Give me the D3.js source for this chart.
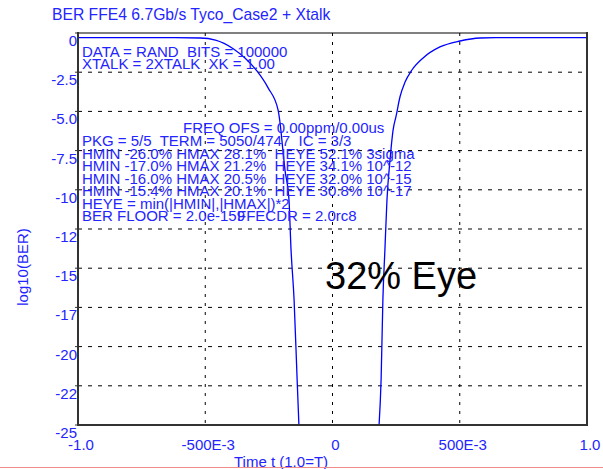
<!DOCTYPE html>
<html>
<head>
<meta charset="utf-8">
<script src="https://cdn.jsdelivr.net/npm/d3@7"></script>
<style>
body { margin: 0; background: #fff; }
text { font-family: Arial, "Liberation Sans", sans-serif; white-space: pre; }
</style>
</head>
<body>
<script>
// bathtub curve, left edge (time t, log10 BER)
var leftT = [-1.0, -0.62, -0.52, -0.46, -0.39, -0.344, -0.297, -0.253, -0.214, -0.206, -0.195, -0.187, -0.171, -0.163, -0.151, -0.139, -0.132];
var leftBer = [-0.3, -0.3, -0.32, -0.45, -1.0, -1.6, -2.42, -3.5, -4.9, -5.74, -7.46, -8.7, -10.65, -13.8, -17.0, -22.1, -25];
// right edge
var rightT = [0.183, 0.191, 0.198, 0.206, 0.214, 0.226, 0.238, 0.250, 0.265, 0.285, 0.312, 0.356, 0.422, 0.501, 0.58, 0.64, 1.0];
var rightBer = [-25, -22.1, -17.0, -13.8, -10.65, -8.1, -6.19, -5.29, -4.08, -3.13, -2.36, -1.59, -0.89, -0.51, -0.32, -0.3, -0.3];

var yTicks = [0, -2.5, -5, -7.5, -10, -12.5, -15, -17.5, -20, -22.5, -25];
var yTickLabels = ['0', '-2.5', '-5.0', '-7.5', '-10', '-12', '-15', '-17', '-20', '-22', '-25'];
var xTicks = [-1, -0.5, 0, 0.5, 1];
var xTickLabels = ['-1.0', '-500E-3', '0', '500E-3', '1.0'];

var notesTop = ['DATA = RAND  BITS = 100000', 'XTALK = 2XTALK  XK = 1.00'];
var notesMid = ['PKG = 5/5  TERM = 5050/4747  IC = 3/3',
    'HMIN -26.0% HMAX 28.1%  HEYE 52.1% 3sigma',
    'HMIN -17.0% HMAX 21.2%  HEYE 34.1% 10^-12',
    'HMIN -16.0% HMAX 20.5%  HEYE 32.0% 10^-15',
    'HMIN -15.4% HMAX 20.1%  HEYE 30.8% 10^-17',
    'HEYE = min(|HMIN|,|HMAX|)*2',
    'BER FLOOR = 2.0e-159'];

var width = 603;
var height = 469;
var blue = '#2424ff';

var svg = d3.select('body')
    .append('svg')
    .attr('width', width)
    .attr('height', height);

var x = d3.scaleLinear().domain([-1, 1]).range([78, 587]);
var y = d3.scaleLinear().domain([0, -25]).range([33, 425]);

// grid
svg.selectAll('.hgrid')
    .data(yTicks.slice(1, -1))
    .enter().append('line')
    .attr('x1', x(-1)).attr('x2', x(1))
    .attr('y1', d => y(d)).attr('y2', d => y(d))
    .attr('stroke', '#000')
    .attr('stroke-width', 1)
    .attr('stroke-dasharray', '4,6');

svg.selectAll('.vgrid')
    .data(xTicks.slice(1, -1))
    .enter().append('line')
    .attr('x1', d => x(d)).attr('x2', d => x(d))
    .attr('y1', y(0)).attr('y2', y(-25))
    .attr('stroke', '#000')
    .attr('stroke-width', 1)
    .attr('stroke-dasharray', '3,6');

// curves
var line = d3.line()
    .x(d => x(d[0]))
    .y(d => y(d[1]))
    .curve(d3.curveMonotoneX);

svg.append('path')
    .attr('d', line(d3.zip(leftT, leftBer)))
    .attr('fill', 'none')
    .attr('stroke', '#0000ff')
    .attr('stroke-width', 1.3);

svg.append('path')
    .attr('d', line(d3.zip(rightT, rightBer)))
    .attr('fill', 'none')
    .attr('stroke', '#0000ff')
    .attr('stroke-width', 1.3);

// frame
svg.append('line').attr('x1', x(-1)).attr('x2', x(1)).attr('y1', y(0)).attr('y2', y(0))
    .attr('stroke', '#000').attr('stroke-width', 1);
svg.append('line').attr('x1', x(-1)).attr('x2', x(1)).attr('y1', y(-25)).attr('y2', y(-25))
    .attr('stroke', '#333').attr('stroke-width', 2);
svg.append('line').attr('x1', x(-1)).attr('x2', x(-1)).attr('y1', y(0) - 1).attr('y2', y(-25) + 1)
    .attr('stroke', '#333').attr('stroke-width', 2);
svg.append('line').attr('x1', x(1)).attr('x2', x(1)).attr('y1', y(0) - 1).attr('y2', y(-25) + 1)
    .attr('stroke', '#333').attr('stroke-width', 2);

// small ticks on left axis
svg.selectAll('.ytick')
    .data(yTicks)
    .enter().append('line')
    .attr('x1', x(-1) - 3).attr('x2', x(-1))
    .attr('y1', d => y(d)).attr('y2', d => y(d))
    .attr('stroke', '#333');

// tick labels
svg.selectAll('.ylab')
    .data(yTicks)
    .enter().append('text')
    .attr('x', 77)
    .attr('y', d => y(d) + 13)
    .attr('text-anchor', 'end')
    .attr('font-size', 15)
    .attr('fill', blue)
    .text((d, i) => yTickLabels[i]);

svg.selectAll('.xlab')
    .data(xTicks)
    .enter().append('text')
    .attr('x', d => x(d) + 3)
    .attr('y', 450)
    .attr('text-anchor', 'middle')
    .attr('font-size', 15)
    .attr('fill', blue)
    .text((d, i) => xTickLabels[i]);

// titles
svg.append('text')
    .attr('x', 52).attr('y', 20)
    .attr('font-size', 15.7)
    .attr('fill', blue)
    .text('BER FFE4 6.7Gb/s Tyco_Case2 + Xtalk');

svg.append('text')
    .attr('x', 234).attr('y', 467)
    .attr('font-size', 15)
    .attr('fill', blue)
    .text('Time t (1.0=T)');

svg.append('text')
    .attr('transform', 'translate(28,267) rotate(-90)')
    .attr('text-anchor', 'middle')
    .attr('font-size', 15)
    .attr('fill', blue)
    .text('log10(BER)');

// annotations
svg.selectAll('.notetop')
    .data(notesTop)
    .enter().append('text')
    .attr('x', 82)
    .attr('y', (d, i) => 57 + i * 12)
    .attr('font-size', 15)
    .attr('fill', blue)
    .text(d => d);

svg.append('text')
    .attr('x', 183).attr('y', 133)
    .attr('font-size', 15)
    .attr('fill', blue)
    .text('FREQ OFS = 0.00ppm/0.00us');

svg.selectAll('.notemid')
    .data(notesMid)
    .enter().append('text')
    .attr('x', 82)
    .attr('y', (d, i) => 146 + i * 12.5)
    .attr('font-size', 15)
    .attr('fill', blue)
    .text(d => d);

svg.append('text')
    .attr('x', 237).attr('y', 221)
    .attr('font-size', 15)
    .attr('fill', blue)
    .text('FFECDR = 2.0rc8');

svg.append('text')
    .attr('x', 325).attr('y', 289)
    .attr('font-size', 38)
    .attr('fill', '#000')
    .text('32% Eye');

// thin red line at the bottom edge
svg.append('line')
    .attr('x1', 0).attr('x2', width)
    .attr('y1', 467.5).attr('y2', 467.5)
    .attr('stroke', '#f08c8c')
    .attr('stroke-width', 1);
</script>
</body>
</html>
